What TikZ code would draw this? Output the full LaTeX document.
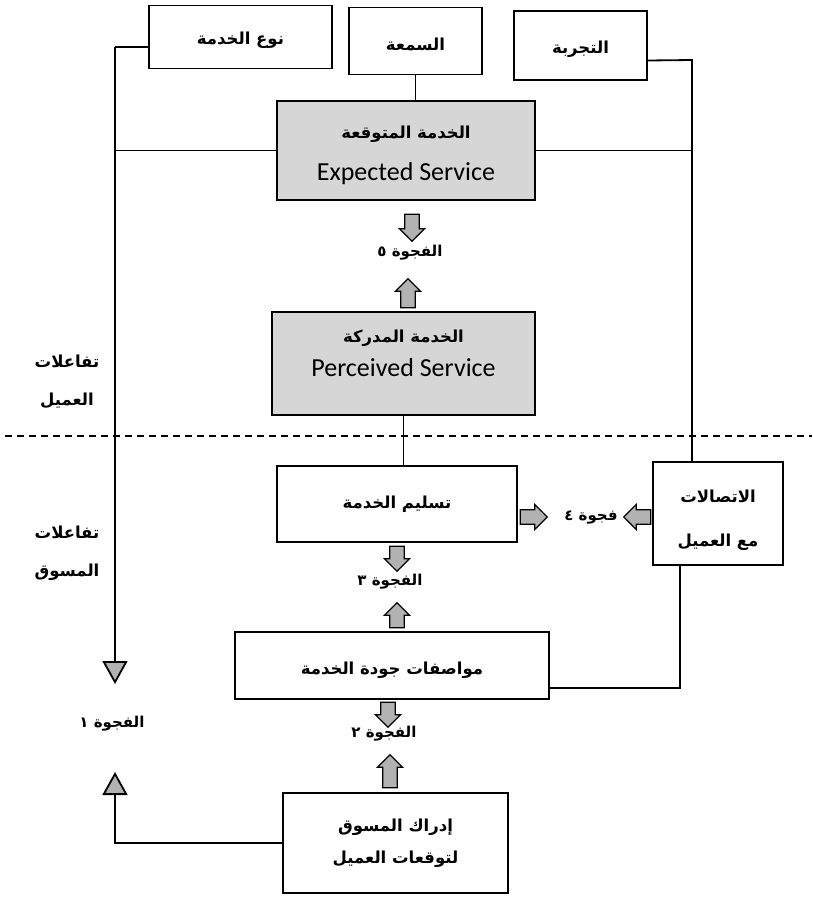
\documentclass[tikz,border=0pt]{standalone}
\usepackage{fontspec}
\setmainfont{Carlito}
\newfontfamily\arabicfont[Script=Arabic]{DejaVu Sans}
\TeXXeTstate=1
\usetikzlibrary{arrows.meta,shapes.arrows}
\newcommand{\artext}[1]{{\arabicfont\bfseries\beginR #1\endR}}
\newcommand{\engtext}[1]{{\fontsize{26}{30}\selectfont #1}}

\tikzset{
  box/.style={draw=black, line width=1.8pt, fill=white, inner sep=2pt, align=center,
              font=\fontsize{16.5}{20}\selectfont},
  shaded/.style={box, fill=gray!32},
  link/.style={draw=black, line width=1.8pt},
  gaptip/.style={-{Triangle[width=25pt,length=23pt,fill=gray!60]}},
  blockarrow/.style={single arrow, draw=black, line width=1.2pt, fill=gray!60,
              minimum width=25pt, single arrow head extend=5pt, inner sep=6.5pt},
  gaplabel/.style={font=\fontsize{15}{18}\selectfont, inner sep=1pt},
  sidelabel/.style={font=\fontsize{16.5}{20}\selectfont, align=center, inner sep=1pt},
}

\begin{document}
\begin{tikzpicture}[x=1pt, y=-1pt]
\useasboundingbox (0,0) rectangle (812,897);

% determinants of expectations
\node[box, minimum width=183pt, minimum height=63pt] (type) at (240.5,37) {\rule{0pt}{20pt}\artext{نوع الخدمة}};
\node[box, minimum width=133pt, minimum height=67pt] (rep)  at (415.5,41) {\rule{0pt}{20pt}\artext{السمعة}};
\node[box, minimum width=133pt, minimum height=69pt] (expr) at (580.5,45.5) {\rule{0pt}{20pt}\artext{التجربة}};

% customer side
\node[shaded, minimum width=258pt, minimum height=99pt] (expected) at (406,150.5)
  {\rule{0pt}{22pt}\artext{الخدمة المتوقعة}\\[19pt]\engtext{Expected Service}};
\node[shaded, minimum width=263pt, minimum height=103pt] (perceived) at (403.5,363.5)
  {\artext{الخدمة المدركة}\\[11pt]\engtext{Perceived Service}\rule[-20pt]{0pt}{20pt}};

% marketer side
\node[box, minimum width=240pt, minimum height=76pt] (delivery) at (397,504) {\artext{تسليم الخدمة}};
\node[box, minimum width=130pt, minimum height=103pt] (comm) at (718,513.5)
  {\rule{0pt}{26pt}\artext{الاتصالات}\\[24pt]\artext{مع العميل}};
\node[box, minimum width=314pt, minimum height=67pt] (quality) at (392,665.5) {\rule{0pt}{22pt}\artext{مواصفات جودة الخدمة}};
\node[box, minimum width=225pt, minimum height=100pt] (perception) at (395.5,843)
  {\artext{إدراك المسوق}\\[12pt]\artext{لتوقعات العميل}};

% boundary between customer and marketer
\draw[dashed, line width=1.3pt, dash pattern=on 7pt off 5pt] (5,436) -- (812,436);
\node[sidelabel] (custlab) at (67,382) {\artext{تفاعلات}\\[18pt]\artext{العميل}};
\node[sidelabel] (mktlab) at (67,553) {\artext{تفاعلات}\\[18pt]\artext{المسوق}};

% connector corners
\coordinate (ltop) at (115,47);
\coordinate (rtop) at (692,60);
\coordinate (g1top) at (115,684);
\coordinate (g1bot) at (115,772);

% left feed: service type to gap 1
\draw[link] ([yshift=-10pt]type.west) -- (ltop);
\draw[link, gaptip] (ltop) -- (g1top);
\draw[link] (expected.west) -- (expected.west -| ltop);
\draw[link, gaptip] (perception.west) -| (g1bot);
\node[gaplabel] (g1) at (112,724) {\artext{الفجوة ١}};

% right feed: experience to communications
\draw[link] ([yshift=-15pt]expr.east) -- (rtop) -- (rtop |- comm.north);
\draw[link] (expected.east) -- (expected.east -| rtop);
\draw[link] (rep.south) -- (rep.south |- expected.north);
\draw[link] (perceived.south) -- (perceived.south |- delivery.north);
\draw[link] ([xshift=-38pt]comm.south) -- ++(0,122) coordinate (cq) -- (cq -| quality.east);

% gap 5
\node[blockarrow, minimum height=27pt, shape border rotate=270] (g5a) at (412,224) {};
\node[gaplabel] (g5) at (410,253) {\artext{الفجوة ٥}};
\node[blockarrow, minimum height=29pt, shape border rotate=90] (g5b) at (408,297) {};

% gap 4
\node[blockarrow, minimum height=27pt] (g4a) at (530,517) {};
\node[gaplabel] (g4) at (591,517) {\artext{فجوة ٤}};
\node[blockarrow, minimum height=27pt, shape border rotate=180] (g4b) at (641,517) {};

% gap 3
\node[blockarrow, minimum height=25pt, shape border rotate=270] (g3a) at (397,555) {};
\node[gaplabel] (g3) at (390,582) {\artext{الفجوة ٣}};
\node[blockarrow, minimum height=25pt, shape border rotate=90] (g3b) at (397,619) {};

% gap 2
\node[blockarrow, minimum height=25pt, shape border rotate=270] (g2a) at (388,711) {};
\node[gaplabel] (g2) at (384,734) {\artext{الفجوة ٢}};
\node[blockarrow, minimum height=33pt, shape border rotate=90] (g2b) at (390,775) {};
\end{tikzpicture}
\end{document}
